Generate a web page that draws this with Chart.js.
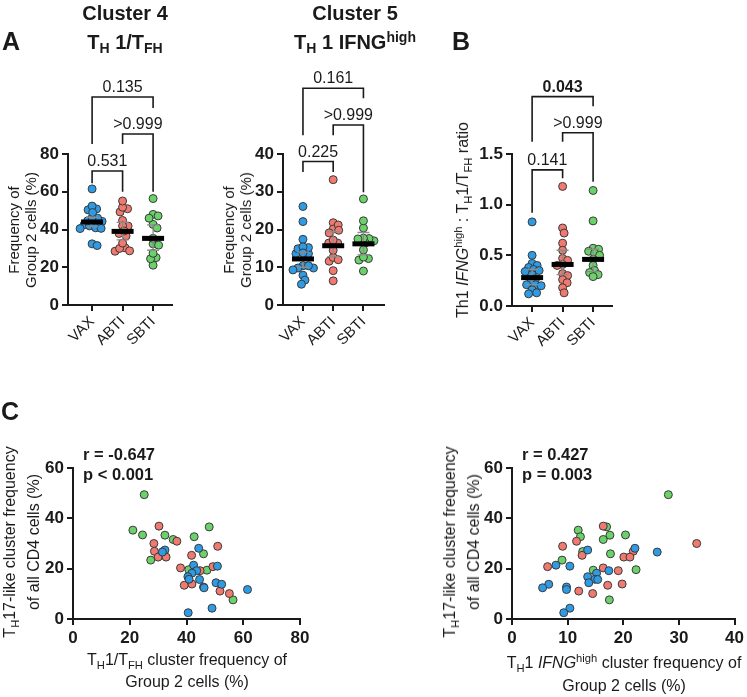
<!DOCTYPE html>
<html><head><meta charset="utf-8">
<script src="https://cdn.jsdelivr.net/npm/chart.js@4/dist/chart.umd.min.js"></script>
<style>
body{margin:0;background:#fff;}
#wrap{position:relative;width:747px;height:697px;overflow:hidden;font-family:"Liberation Sans",Arial,Helvetica,sans-serif;color:#1a1a1a;background:#fff;}
canvas{position:absolute;left:0;top:0;}
.t{position:absolute;white-space:nowrap;}
.c{transform:translate(-50%,-50%);text-align:center;}
.r{transform:translate(-50%,-50%) rotate(-90deg);text-align:center;}
sub{font-size:0.7em;vertical-align:-0.35em;line-height:0}
sup{font-size:0.7em;vertical-align:0.5em;line-height:0}
.b{font-weight:bold}
</style></head>
<body>
<div id="wrap">
<canvas id="a1" width="747" height="697"></canvas>
<canvas id="a2" width="747" height="697"></canvas>
<canvas id="b1" width="747" height="697"></canvas>
<canvas id="c1" width="747" height="697"></canvas>
<canvas id="c2" width="747" height="697"></canvas>

<div class="t c b" style="left:11px;top:41px;font-size:25px">A</div>
<div class="t c b" style="left:461px;top:41px;font-size:25px">B</div>
<div class="t c b" style="left:10px;top:411px;font-size:25px">C</div>

<div class="t c b" style="left:125px;top:13px;font-size:20px">Cluster 4</div>
<div class="t c b" style="left:125px;top:42px;font-size:20px">T<sub>H</sub> 1/T<sub>FH</sub></div>
<div class="t c b" style="left:355px;top:13px;font-size:20px">Cluster 5</div>
<div class="t c b" style="left:355px;top:42px;font-size:20px">T<sub>H</sub> 1 IFNG<sup>high</sup></div>

<div class="t r" style="left:22px;top:230px;font-size:15px;line-height:17px">Frequency of<br>Group 2 cells (%)</div>
<div class="t r" style="left:237px;top:230px;font-size:15px;line-height:17px">Frequency of<br>Group 2 cells (%)</div>
<div class="t r" style="left:463px;top:220px;font-size:16px">Th1 <i>IFNG</i><sup>high</sup> : T<sub>H</sub>1/T<sub>FH</sub> ratio</div>

<div class="t r" style="left:22px;top:542px;font-size:16px;line-height:24px">T<sub>H</sub>17-like cluster frequency<br>of all CD4 cells (%)</div>
<div class="t r" style="left:462px;top:542px;font-size:16px;line-height:24px">T<sub>H</sub>17-like cluster frequency<br>of all CD4 cells (%)</div>
<div class="t c" style="left:187px;top:671px;font-size:16px;line-height:22px">T<sub>H</sub>1/T<sub>FH</sub> cluster frequency of<br>Group 2 cells (%)</div>
<div class="t c" style="left:624px;top:674px;font-size:16px;line-height:23px">T<sub>H</sub>1 <i>IFNG</i><sup>high</sup> cluster frequency of<br>Group 2 cells (%)</div>

<div class="t b" style="left:83px;top:444px;font-size:16.5px;line-height:20px">r = -0.647<br>p &lt; 0.001</div>
<div class="t b" style="left:522px;top:444px;font-size:16.5px;line-height:20px">r = 0.427<br>p = 0.003</div>
</div>

<script>
// ---------------- DATA ----------------
const groups = ['VAX', 'ABTI', 'SBTI'];

// TH17-like cluster frequency of all CD4 cells (%) per subject
const vaxTh17  = [28.1, 27.4, 26.6, 21.4, 21.0, 19.2, 18.2, 16.8, 15.8, 15.7, 14.4, 13.8, 12.7, 12.4, 11.7, 4.3, 2.5];
const abtiTh17 = [36.9, 30.9, 30.0, 28.9, 26.9, 25.3, 24.6, 24.6, 20.8, 20.3, 19.2, 13.9, 13.4, 11.1, 10.1];
const sbtiTh17 = [49.4, 36.6, 35.3, 33.4, 33.3, 32.7, 31.6, 26.8, 25.9, 23.4, 19.6, 19.4, 7.6];

// Cluster 4 (TH1/TFH) frequency of Group 2 cells (%)
const vaxTh1Tfh  = [44.3, 32.4, 31.5, 42.5, 50.9, 43.6, 41.9, 40.5, 40.9, 44.6, 50.4, 52.4, 46.0, 46.2, 61.5, 49.0, 40.6];
const abtiTh1Tfh = [30.3, 36.6, 28.5, 51.0, 28.7, 41.8, 30.0, 32.8, 49.3, 37.9, 44.8, 41.9, 39.2, 51.8, 55.1];
const sbtiTh1Tfh = [25.1, 48.0, 21.1, 24.5, 32.4, 42.7, 35.3, 31.7, 46.0, 27.4, 40.8, 47.2, 56.4];

// Cluster 5 (TH1 IFNG high) frequency of Group 2 cells (%)
const vaxIfng  = [22.1, 13.6, 26.1, 7.9, 10.4, 17.4, 15.2, 13.6, 14.9, 15.4, 13.8, 6.6, 9.8, 5.5, 9.8, 10.4, 9.3];
const abtiIfng = [16.4, 11.6, 33.2, 9.1, 21.8, 12.6, 20.1, 21.2, 6.4, 16.4, 19.1, 19.8, 17.2, 12.0, 14.5];
const sbtiIfng = [28.1, 17.0, 11.9, 20.4, 17.6, 12.3, 16.4, 12.7, 17.7, 9.0, 22.3, 14.6, 17.5];

// Th1 IFNG high : TH1/TFH ratio
const vaxRatio  = [0.83, 0.50, 0.42, 0.40, 0.38, 0.36, 0.35, 0.34, 0.31, 0.27, 0.24, 0.21, 0.21, 0.20, 0.16, 0.13, 0.12];
const abtiRatio = [1.18, 0.77, 0.72, 0.62, 0.55, 0.47, 0.45, 0.41, 0.40, 0.32, 0.30, 0.26, 0.23, 0.18, 0.13];
const sbtiRatio = [1.14, 0.84, 0.57, 0.56, 0.54, 0.52, 0.50, 0.46, 0.40, 0.35, 0.33, 0.31, 0.29];

// summary lines (median with CI) per group
const th1TfhMedian = [44.0, 39.0, 35.3];
const th1TfhLow    = [41.5, 34.5, 29.0];
const th1TfhHigh   = [46.5, 43.8, 42.4];
const ifngMedian   = [12.2, 15.7, 16.2];
const ifngLow      = [10.0, 12.8, 13.3];
const ifngHigh     = [14.0, 19.4, 19.2];
const ratioMedian  = [0.28, 0.41, 0.46];
const ratioLow     = [0.21, 0.31, 0.34];
const ratioHigh    = [0.36, 0.55, 0.56];

// p-values of pairwise comparisons
const pA1 = ['0.531', '>0.999', '0.135'];
const pA2 = ['0.225', '>0.999', '0.161'];
const pB  = ['0.141', '>0.999', '0.043'];

// ---------------- STYLE / LAYOUT ----------------
const FONT = '"Liberation Sans", Arial, Helvetica, sans-serif';
const INK = '#1a1a1a';
const COLORS = ['#2f9be4', '#f07a70', '#6bd16a'];
const W = 747, H = 697, YW = 50, XH = 60;

const decor = {
  id: 'decor',
  afterDatasetsDraw(chart) {
    const o = chart.options.plugins.decor;
    if (!o || !o.on) return;
    const ctx = chart.ctx, xs = chart.scales.x, ys = chart.scales.y;
    ctx.save();
    if (o.median) {
      o.median.forEach((m, i) => {
        const cx = xs.getPixelForValue(i + 1);
        const yl = ys.getPixelForValue(o.lo[i]), yh = ys.getPixelForValue(o.hi[i]);
        ctx.strokeStyle = '#8c8c8c'; ctx.lineWidth = 1.3;
        ctx.beginPath();
        ctx.moveTo(cx, yl); ctx.lineTo(cx, yh);
        ctx.moveTo(cx - 6, yl); ctx.lineTo(cx + 6, yl);
        ctx.moveTo(cx - 6, yh); ctx.lineTo(cx + 6, yh);
        ctx.stroke();
        const ym = ys.getPixelForValue(m);
        ctx.fillStyle = '#000';
        ctx.fillRect(cx - 11, ym - 2.5, 22, 5);
      });
    }
    (o.brackets || []).forEach(b => {
      const x1 = xs.getPixelForValue(b.from), x2 = xs.getPixelForValue(b.to);
      const yt = ys.getPixelForValue(b.top), yl = ys.getPixelForValue(b.leftEnd), yr = ys.getPixelForValue(b.rightEnd);
      ctx.strokeStyle = INK; ctx.lineWidth = 1.6;
      ctx.beginPath();
      ctx.moveTo(x1, yl); ctx.lineTo(x1, yt); ctx.lineTo(x2, yt); ctx.lineTo(x2, yr);
      ctx.stroke();
      ctx.font = (b.bold ? 'bold ' : '') + '16px ' + FONT;
      ctx.textAlign = 'center'; ctx.textBaseline = 'alphabetic'; ctx.fillStyle = INK;
      ctx.fillText(b.label, (x1 + x2) / 2, yt - 5);
    });
    ctx.restore();
  }
};
Chart.register(decor);

function axis(kind, o) {
  const a = {
    type: 'linear', min: o.min, max: o.max,
    afterFit: kind === 'x' ? (s => { s.height = XH; }) : (s => { s.width = YW; }),
    ticks: {
      autoSkip: false, color: INK, padding: o.cats ? 2 : 3,
      font: o.cats ? { family: FONT, size: 15 } : { family: FONT, size: 17, weight: 'bold' },
      minRotation: o.cats ? 45 : 0, maxRotation: o.cats ? 45 : 0
    },
    grid: { drawOnChartArea: false, drawTicks: true, tickLength: 6, color: INK, lineWidth: 2 },
    border: { display: true, color: INK, width: 2 }
  };
  if (o.step) a.ticks.stepSize = o.step;
  if (o.cb) a.ticks.callback = o.cb;
  if (o.cats) {
    a.afterBuildTicks = s => { s.ticks = [1, 2, 3].map(v => ({ value: v })); };
    a.ticks.callback = v => groups[Math.round(v) - 1];
  }
  return a;
}

function makeChart(id, area, xo, yo, datasets, decorOpts) {
  return new Chart(document.getElementById(id), {
    type: 'scatter',
    data: { datasets },
    options: {
      responsive: false, animation: false, events: [],
      layout: { padding: { left: area.left - YW, top: area.top, right: W - area.right, bottom: H - area.bottom - XH } },
      scales: { x: axis('x', xo), y: axis('y', yo) },
      plugins: { legend: { display: false }, tooltip: { enabled: false }, decor: Object.assign({ on: true }, decorOpts) }
    }
  });
}

function dotSets(series) {
  return series.map((vals, gi) => ({
    source: vals,
    data: vals.map(v => ({ x: gi + 1, y: v })),
    pointRadius: 4, pointBorderWidth: 1, pointBorderColor: '#3a3a3a',
    pointBackgroundColor: COLORS[gi], showLine: false, clip: false
  }));
}

function swarm(chart, D) {
  const xs = chart.scales.x, ys = chart.scales.y;
  const unit = Math.abs(xs.getPixelForValue(2) - xs.getPixelForValue(1));
  chart.data.datasets.forEach((ds, gi) => {
    const vals = ds.source;
    const order = vals.map((v, i) => i).sort((a, b) => vals[b] - vals[a]);
    const placed = [];
    const off = new Array(vals.length).fill(0);
    order.forEach(i => {
      const py = ys.getPixelForValue(vals[i]);
      for (let k = 0; k < 400; k++) {
        const c = (k % 2 ? 1 : -1) * Math.ceil(k / 2) * 0.5;
        if (placed.every(p => (p.x - c) ** 2 + (p.y - py) ** 2 >= D * D)) {
          off[i] = c; placed.push({ x: c, y: py }); break;
        }
      }
    });
    ds.data = vals.map((v, i) => ({ x: gi + 1 + off[i] / unit, y: v }));
  });
  chart.update('none');
}

function scatterSets(xs, ys) {
  return xs.map((xv, gi) => ({
    data: xv.map((x, i) => ({ x, y: ys[gi][i] })),
    pointRadius: 4, pointBorderWidth: 1, pointBorderColor: '#3a3a3a',
    pointBackgroundColor: COLORS[gi], showLine: false, clip: false
  }));
}

// Panel A – cluster 4
const chA1 = makeChart('a1', { left: 68, top: 154, right: 172, bottom: 305 },
  { min: 0.21, max: 3.62, cats: true }, { min: 0, max: 80, step: 20 },
  dotSets([vaxTh1Tfh, abtiTh1Tfh, sbtiTh1Tfh]),
  { median: th1TfhMedian, lo: th1TfhLow, hi: th1TfhHigh,
    brackets: [
      { from: 1, to: 2, top: 71, leftEnd: 64.5, rightEnd: 60, label: pA1[0] },
      { from: 2, to: 3, top: 90.6, leftEnd: 85.3, rightEnd: 60, label: pA1[1] },
      { from: 1, to: 3, top: 110.2, leftEnd: 85.3, rightEnd: 104.4, label: pA1[2] }
    ] });
swarm(chA1, 5.2);

// Panel A – cluster 5
const chA2 = makeChart('a2', { left: 283, top: 154, right: 384, bottom: 305 },
  { min: 0.34, max: 3.68, cats: true }, { min: 0, max: 40, step: 10 },
  dotSets([vaxIfng, abtiIfng, sbtiIfng]),
  { median: ifngMedian, lo: ifngLow, hi: ifngHigh,
    brackets: [
      { from: 1, to: 2, top: 38, leftEnd: 35.2, rightEnd: 35.2, label: pA2[0] },
      { from: 2, to: 3, top: 47.7, leftEnd: 45, rightEnd: 29.9, label: pA2[1] },
      { from: 1, to: 3, top: 57.4, leftEnd: 45, rightEnd: 54.8, label: pA2[2] }
    ] });
swarm(chA2, 5.2);

// Panel B – ratio
const chB = makeChart('b1', { left: 512, top: 154, right: 612, bottom: 306 },
  { min: 0.34, max: 3.62, cats: true }, { min: 0, max: 1.5, step: 0.5, cb: v => v.toFixed(1) },
  dotSets([vaxRatio, abtiRatio, sbtiRatio]),
  { median: ratioMedian, lo: ratioLow, hi: ratioHigh,
    brackets: [
      { from: 1, to: 2, top: 1.343, leftEnd: 0.92, rightEnd: 1.26, label: pB[0] },
      { from: 2, to: 3, top: 1.71, leftEnd: 1.62, rightEnd: 1.227, label: pB[1] },
      { from: 1, to: 3, top: 2.066, leftEnd: 1.62, rightEnd: 1.97, label: pB[2], bold: true }
    ] });
swarm(chB, 5.2);

// Panel C – correlations
makeChart('c1', { left: 73, top: 468, right: 300, bottom: 619 },
  { min: 0, max: 80, step: 20 }, { min: 0, max: 60, step: 20 },
  scatterSets([vaxTh1Tfh, abtiTh1Tfh, sbtiTh1Tfh], [vaxTh17, abtiTh17, sbtiTh17]), { on: false });

makeChart('c2', { left: 512, top: 468, right: 737, bottom: 619 },
  { min: 0, max: 40, step: 10 }, { min: 0, max: 60, step: 20 },
  scatterSets([vaxIfng, abtiIfng, sbtiIfng], [vaxTh17, abtiTh17, sbtiTh17]), { on: false });
</script>
</body></html>
